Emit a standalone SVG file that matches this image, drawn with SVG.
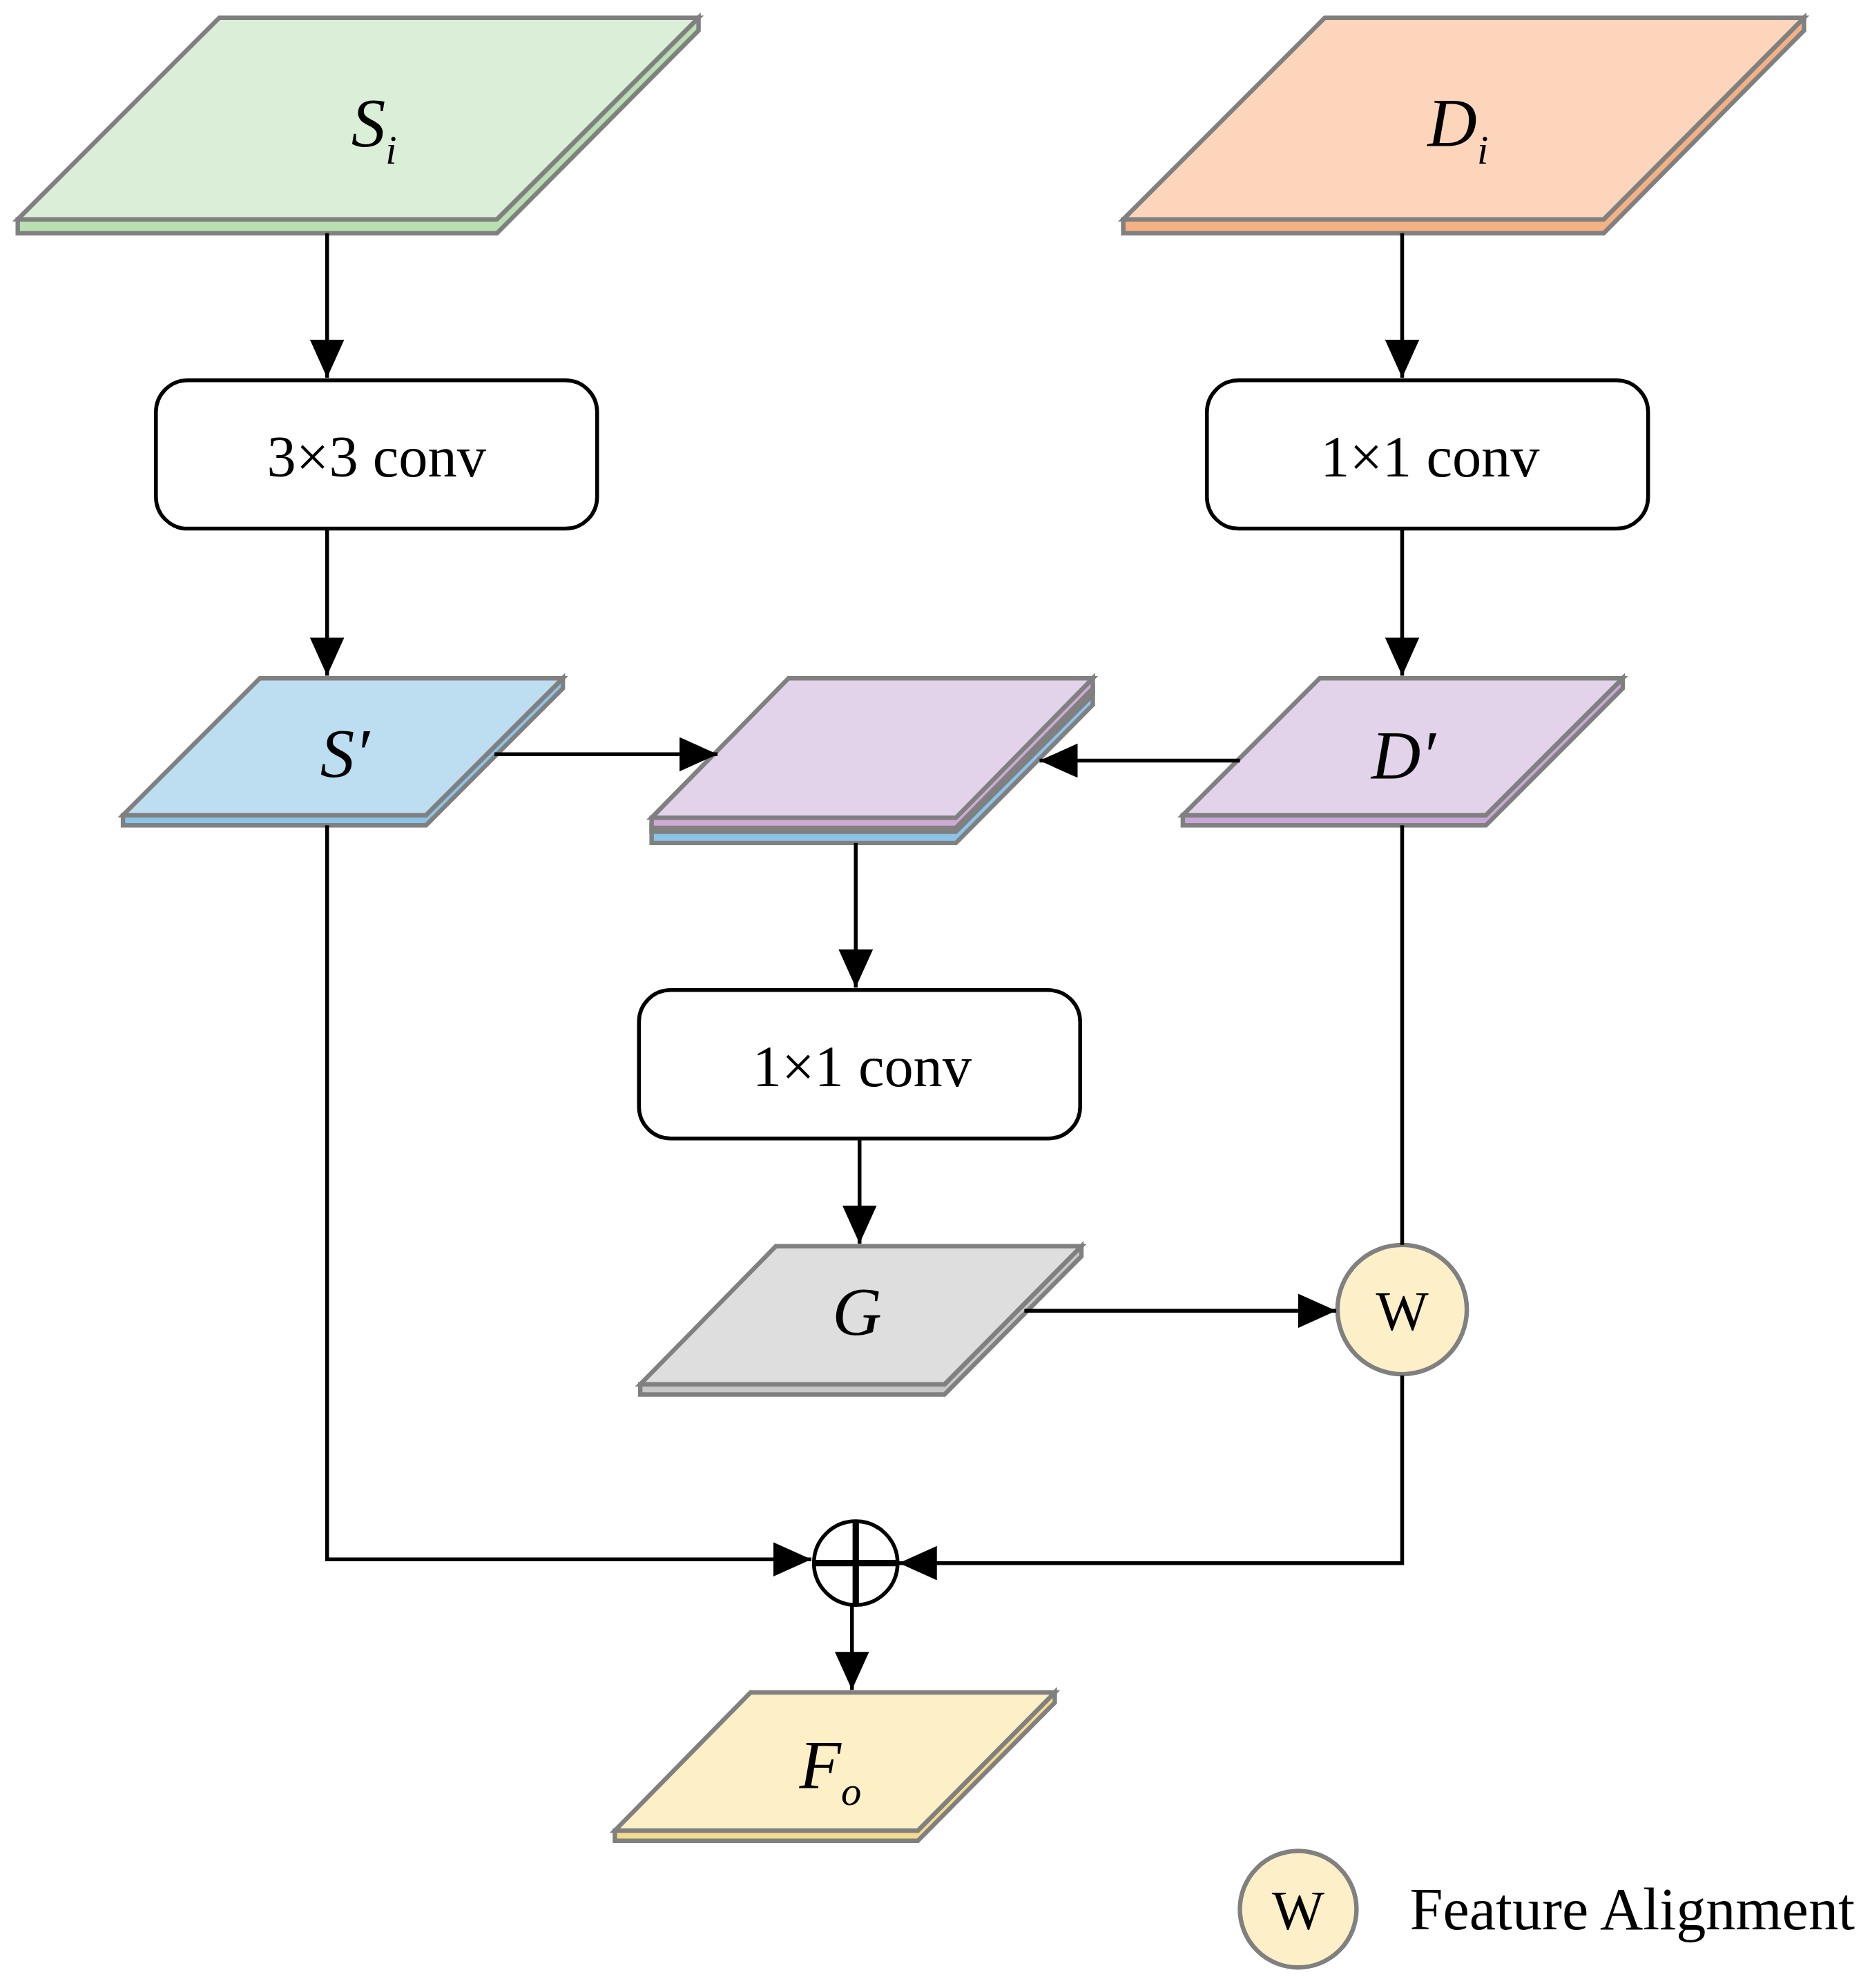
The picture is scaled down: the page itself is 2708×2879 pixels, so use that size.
<svg xmlns="http://www.w3.org/2000/svg" width="2708" height="2879" viewBox="0 0 2708 2879">
<defs>
<marker id="ah" markerWidth="10" markerHeight="9" refX="10" refY="4.5" orient="auto" markerUnits="strokeWidth"><path d="M0,0 L10,4.5 L0,9 z" fill="#000"/></marker>
<style>
.e{stroke:#808080;stroke-width:3.5;stroke-linejoin:miter}
.c{fill:none;stroke:#000;stroke-width:3}
.a{marker-end:url(#ah)}
.t{font-family:"Liberation Serif",serif;fill:#000}
.i{font-style:italic;font-size:54px}
.box{fill:#fff;stroke:#000;stroke-width:3}
</style>
</defs>
<rect width="2708" height="2879" fill="#fff"/>
<g transform="scale(1.8359)">
<g id="Si">
<polygon class="e" fill="#b9e0b0" points="14,173 392,173 551,14 551,24 392,184 14,184"/>
<polygon class="e" fill="#dbeed8" points="173,14 551,14 392,173 14,173"/>
<text class="t i" x="295" y="115" text-anchor="middle">S<tspan font-size="32" dy="14">i</tspan></text>
</g>
<g id="Di">
<polygon class="e" fill="#f4b183" points="886,173 1265,173 1423,14 1423,24 1265,184 886,184"/>
<polygon class="e" fill="#fdd5bb" points="1045,14 1423,14 1265,173 886,173"/>
<text class="t i" x="1150" y="115" text-anchor="middle">D<tspan font-size="32" dy="14">i</tspan></text>
</g>
<g id="conv3"><rect class="box" x="123" y="300" width="348" height="117" rx="25"/><text class="t" x="297" y="376" font-size="46" text-anchor="middle">3×3 conv</text></g>
<g id="conv1r"><rect class="box" x="952" y="300" width="348" height="117" rx="25"/><text class="t" x="1128" y="376" font-size="46" text-anchor="middle">1×1 conv</text></g>
<g id="Sp">
<polygon class="e" fill="#8cc4e8" points="97,643 336,643 444,535 444,543 336,651 97,651"/>
<polygon class="e" fill="#bdddf0" points="205,535 444,535 336,643 97,643"/>
<text class="t i" x="272" y="612" text-anchor="middle">S′</text>
</g>
<g id="Dp">
<polygon class="e" fill="#c9a8d8" points="933,643 1172,643 1280,535 1280,543 1172,651 933,651"/>
<polygon class="e" fill="#e2d3ea" points="1041,535 1280,535 1172,643 933,643"/>
<text class="t i" x="1107" y="614" text-anchor="middle">D′</text>
</g>
<g id="concat">
<polygon class="e" fill="#8cc4e8" points="514,656 754,656 862,548 862,556 754,665 514,665"/>
<polygon class="e" fill="#bdddf0" points="514,651 754,651 862,543 862,548 754,656 514,656"/>
<polygon class="e" fill="#cfaad6" points="514,645 754,645 862,535 862,543 754,653 514,653"/>
<polygon class="e" fill="#e2d3ea" points="622,535 862,535 754,645 514,645"/>
</g>
<g id="conv1m"><rect class="box" x="504" y="781" width="348" height="117" rx="25"/><text class="t" x="680" y="857" font-size="46" text-anchor="middle">1×1 conv</text></g>
<g id="G">
<polygon class="e" fill="#c8c8c8" points="505,1092 745,1092 853,983 853,991 745,1100 505,1100"/>
<polygon class="e" fill="#dedede" points="612,983 853,983 745,1092 505,1092"/>
<text class="t i" x="676" y="1053" text-anchor="middle">G</text>
</g>
<g id="W"><circle class="e" fill="#fdf0c8" cx="1106" cy="1033" r="51"/><text class="t" x="1106" y="1049" font-size="44" text-anchor="middle">W</text></g>
<g id="plus"><circle cx="675" cy="1233" r="33" fill="#fff" stroke="#000" stroke-width="3"/><path d="M642,1233 H708 M675,1200 V1266" stroke="#000" stroke-width="5"/></g>
<g id="Fo">
<polygon class="e" fill="#f4dc8c" points="485,1444 724,1444 832,1335 832,1343 724,1452 485,1452"/>
<polygon class="e" fill="#fdf0c6" points="592,1335 832,1335 724,1444 485,1444"/>
<text class="t i" x="655" y="1410" text-anchor="middle">F<tspan font-size="32" dy="14">o</tspan></text>
</g>
<g id="legend"><circle class="e" fill="#fdf0c8" cx="1024" cy="1506" r="46"/><text class="t" x="1024" y="1522" font-size="44" text-anchor="middle">W</text><text class="t" x="1112" y="1522" font-size="47">Feature Alignment</text></g>
<g id="connectors">
<path class="c a" d="M258,184 V298"/>
<path class="c a" d="M258,417 V533"/>
<path class="c a" d="M1106,184 V298"/>
<path class="c a" d="M1106,417 V533"/>
<path class="c a" d="M390,595 H566"/>
<path class="c a" d="M978,600 H820"/>
<path class="c a" d="M675,665 V779"/>
<path class="c a" d="M678,898 V981"/>
<path class="c a" d="M808,1034 H1054"/>
<path class="c" d="M1106,651 V982"/>
<path class="c a" d="M1106,1085 V1233 H709"/>
<path class="c a" d="M258,651 V1230 H640"/>
<path class="c a" d="M672,1266 V1333"/>
</g>
</g>
</svg>
